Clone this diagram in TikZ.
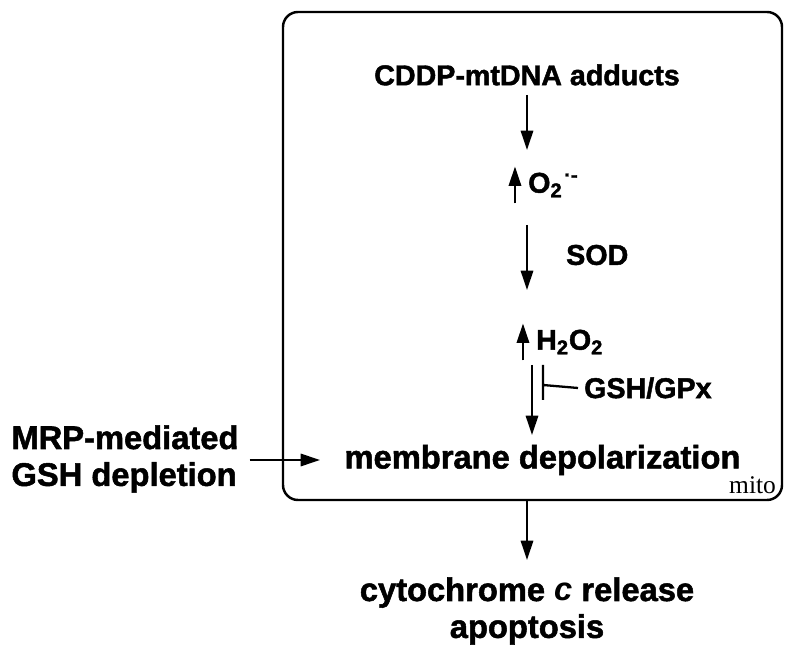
\documentclass[tikz,border=0pt]{standalone}
\usepackage{fontspec}
\setmainfont{Liberation Serif}
\setsansfont{Liberation Sans}[BoldFeatures={FakeBold=1.6}]
\usetikzlibrary{arrows.meta}
\tikzset{
  lbl/.style={font=\sffamily\bfseries\fontsize{16.3}{19}\selectfont},
  biglbl/.style={font=\sffamily\bfseries\fontsize{18.6}{21}\selectfont},
  flow/.style={line width=1.3pt,-{Triangle[length=11pt,width=7pt]}},
}
\begin{document}
\begin{tikzpicture}
      \useasboundingbox (0,0) rectangle (16,13.2);
      \draw[line width=1.4pt,rounded corners=0.3cm] (5.66,3.2) rectangle (15.64,12.96);
      \draw[lbl]
        (10.54, 11.7) node (cddp){CDDP-mtDNA adducts}
        (10.44, 9.5) node[anchor=west] (o2){O\textsubscript{2}\textsuperscript{\kern1pt·-}}
        (11.2, 8.1) node[anchor=west] (sod){SOD}
        (10.6, 6.36) node[anchor=west] (h2o2){H\textsubscript{2}O\textsubscript{2}}
        (11.56, 5.44) node[anchor=west] (gsh){GSH/GPx}
        (10.85, 4.0) node[biglbl] (memb){membrane depolarization}
        (2.5, 4.02) node[biglbl,align=left] (mrp){MRP-mediated\\GSH depletion}
        (10.54, 0.98) node[biglbl,align=center] (cyt){cytochrome \textit{c} release\\apoptosis};
      \node[font=\fontsize{14.5}{17}\selectfont,anchor=base east,inner sep=1pt] (mito) at (15.56, 3.33) {mito};
      \begin{scope}[flow]
        \draw (10.54,11.3) to (10.54,10.2);
        \draw (10.54,8.7) to (10.54,7.4);
        \draw (10.64,5.9) to (10.64,4.5);
        \draw (mrp.east |- memb) ++(0.1,0) to (6.4,4.0);
        \draw (10.54,3.2) to (10.54,2.0);
        \draw ([xshift=-4pt]o2.south west) to ([xshift=-4pt]o2.north west);
        \draw ([xshift=-4pt]h2o2.south west) to ([xshift=-4pt]h2o2.north west);
      \end{scope}
      \draw[line width=1.3pt] (10.86,5.9) -- (10.86,5.2) (10.86,5.5) -- (gsh.west);
    \end{tikzpicture}
\end{document}
